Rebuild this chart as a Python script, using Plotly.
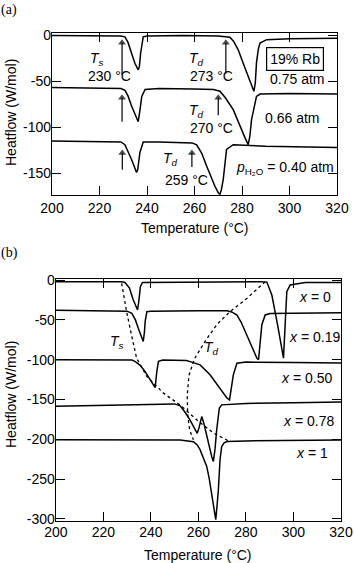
import plotly.graph_objects as go

# ---- panel (a): 19% Rb at three water pressures ----
a75_T = [200, 215, 229, 230.7, 232, 233.5, 234.9, 236.3, 236.8, 237.3, 237.9, 238.4, 240, 255, 270, 273,
         274.9, 276.5, 278.4, 280.5, 282.6, 284.0, 285.0, 285.6, 286.1, 286.9, 287.6, 290.4, 300, 320]
a75_hf = [-0.5, -1, -1, -2, -8, -19.8, -30.6, -37.8, -34, -20, -8, -2, -1, -0.5, -1, -1.5,
          -2.5, -7, -16, -30.6, -45, -55.8, -61, -52, -30, -15, -8.6, -5, -4, -3.5]

a66_T = [200, 220, 229, 230.7, 232, 233.5, 235.9, 236.3, 237.0, 237.8, 239.2, 245, 260, 268, 270.7,
         273, 276.3, 279.1, 281.2, 282.6, 283.3, 284, 285, 286.1, 287.6, 300, 320]
a66_hf = [-57, -57.5, -58, -60, -66, -77, -91.8, -94, -82, -66.6, -59, -58, -58.5, -59, -61,
          -68, -81, -99, -111, -118.8, -110, -92, -78, -66.6, -64, -63.5, -64]

a40_T = [200, 220, 229, 230.7, 232, 233.5, 235.6, 236.1, 237, 238.4, 245, 255, 259, 260.9, 263, 265.1,
         267, 268.6, 270, 270.7, 271.3, 272.1, 273.5, 276.3, 290, 320]
a40_hf = [-115, -115.5, -116, -119, -126, -135, -149, -146, -127.5, -116, -116, -116.5, -117, -119, -128, -142,
          -155, -164, -171, -172.8, -168, -156.6, -124, -119, -120.5, -122]

arrow_T = [229.5, 273.2, 229.5, 270, 229.6, 258.9]
arrow_tip = [-8.5, -8.5, -68, -68, -128, -128]
arrow_tail = [-43, -42, -94, -87, -146, -143]

# ---- panel (b): composition series x ----
b0_T = [200, 220, 227.7, 229.1, 231, 232.5, 233.8, 234.4, 235, 235.6, 236.5, 250, 270, 286, 288.8,
        290.9, 293.3, 295.1, 295.8, 296.5, 297.2, 298.6, 305, 320]
b0_hf = [-2, -2, -2, -3, -10, -24, -35, -37.5, -25, -8, -3, -2.5, -2.5, -2, -2.5,
         -18.7, -56, -90, -98, -56, -14.5, -6, -3, -3]

b19_T = [200, 220, 230, 232, 233.5, 234.7, 236, 236.8, 237.3, 237.6, 238.3, 240, 260, 272, 274, 276.2,
         278, 279.7, 282.5, 284.6, 285.3, 286, 286.7, 288.1, 290.2, 300, 320]
b19_hf = [-38, -38.5, -39, -41.7, -50, -60.5, -72, -77, -65, -52, -39.6, -39, -38.5, -38.5, -40, -43.8,
          -53, -64.7, -83.5, -98, -100, -80, -56, -43.8, -42, -41.5, -41]

b50_T = [200, 220, 232, 233.3, 235.5, 237.6, 240.4, 241.8, 242.5, 243.2, 245, 255, 256.5, 258.5, 260.7,
         264.9, 268.4, 272, 273.1, 273.9, 274.7, 276.2, 280, 300, 320]
b50_hf = [-100, -100, -100.5, -102, -107, -115, -127.5, -135, -115, -102, -100.5, -101, -102.4, -104, -106.5,
          -119, -133.8, -148, -150.4, -135, -119, -104.4, -103, -103.5, -104]

b78_T = [200, 220, 240, 250, 252.3, 254.4, 256.5, 258.3, 259.5, 260.3, 261.4, 262.3, 263.5, 265.6,
         266.3, 267, 267.7, 268.8, 269.8, 280, 300, 320]
b78_hf = [-158.5, -157.5, -156, -155.5, -158, -166, -176, -187, -192.5, -185, -171.4, -180, -196.5, -221.6,
          -227.8, -212, -188, -161, -156.7, -155, -154, -153]

b1_T = [200, 220, 240, 252.3, 257.9, 259.5, 260.7, 262, 263.5, 264.6, 265.6, 266.5, 267.3, 267.8,
        268.4, 269.1, 269.8, 270.8, 272, 280, 300, 320]
b1_hf = [-200.5, -201, -201.5, -201, -203, -207, -213, -222, -234, -250, -267.5, -288, -301, -285,
         -263.4, -225.7, -209, -204.5, -202.8, -202, -201.5, -201]

ts_T = [227.7, 229.8, 232, 234, 238.3, 245.3, 252.3, 259.3, 266.3, 273.3]
ts_hf = [-4, -39.6, -71, -98, -121, -142, -157, -175.5, -192, -203]
td_T = [288.1, 280.4, 273.3, 267.7, 262.8, 258.3, 256.0, 255.3, 255.5, 256.3, 257.9]
td_hf = [-2, -23, -39.6, -56, -77, -99, -120, -145, -170, -188, -200.7]

x_ticks = [200, 220, 240, 260, 280, 300, 320]
ya_ticks = [0, -50, -100, -150]
yb_ticks = [0, -50, -100, -150, -200, -250, -300]

FONT = "Liberation Sans, Arial, sans-serif"
line = dict(color="black", width=1.5)
dots = dict(color="black", width=1.3, dash="dot")

fig = go.Figure()
for T, hf in [(a75_T, a75_hf), (a66_T, a66_hf), (a40_T, a40_hf)]:
    fig.add_trace(go.Scatter(x=T, y=hf, mode="lines", line=line, showlegend=False,
                             xaxis="x", yaxis="y"))
for T, hf in [(b0_T, b0_hf), (b19_T, b19_hf), (b50_T, b50_hf), (b78_T, b78_hf), (b1_T, b1_hf)]:
    fig.add_trace(go.Scatter(x=T, y=hf, mode="lines", line=line, showlegend=False,
                             xaxis="x2", yaxis="y2"))
for T, hf in [(ts_T, ts_hf), (td_T, td_hf)]:
    fig.add_trace(go.Scatter(x=T, y=hf, mode="lines", line=dots, showlegend=False,
                             xaxis="x2", yaxis="y2"))

# onset arrows: shaft from tail up to tip, with a small triangle head
for t, tip, tail in zip(arrow_T, arrow_tip, arrow_tail):
    fig.add_trace(go.Scatter(x=[t, t], y=[tail, tip], mode="lines+markers",
                             line=dict(color="black", width=1.2),
                             marker=dict(symbol=["circle", "triangle-up"], size=[0, 7], color="black",
                                         line=dict(width=0)),
                             showlegend=False, xaxis="x", yaxis="y"))

ann = []

def txt(x, y, s, ax="x", **kw):
    d = dict(x=x, y=y, text=s, xref=ax, yref=ax.replace("x", "y"), showarrow=False,
             xanchor="center", yanchor="middle",
             font=dict(family=FONT, size=14, color="black"))
    d.update(kw)
    ann.append(d)

Ts = "<i>T</i><sub><i>s</i></sub>"
Td = "<i>T</i><sub><i>d</i></sub>"
txt(219, -26, Ts)
txt(224.4, -44, "230 °C")
txt(261, -26, Td)
txt(267.2, -44, "273 °C")
txt(261, -82, Td)
txt(267.2, -101, "270 °C")
txt(249.7, -134, Td)
txt(256.7, -157, "259 °C")
txt(302.5, -26, "19% Rb", bordercolor="black", borderwidth=1.2, borderpad=3)
txt(303.2, -48, "0.75 atm")
txt(301, -90, "0.66 atm")
txt(298, -144, "<i>p</i><sub>H₂O</sub> = 0.40 atm")

txt(225.8, -78, Ts, "x2")
txt(265.5, -85, Td, "x2")
txt(309, -21, "<i>x</i> = 0", "x2")
txt(309, -71, "<i>x</i> = 0.19", "x2")
txt(305.4, -123, "<i>x</i> = 0.50", "x2")
txt(306.4, -177, "<i>x</i> = 0.78", "x2")
txt(308, -217, "<i>x</i> = 1", "x2")

def paper(x, y, s, **kw):
    d = dict(x=x, y=y, text=s, xref="paper", yref="paper", showarrow=False,
             xanchor="center", yanchor="middle",
             font=dict(family=FONT, size=14, color="black"))
    d.update(kw)
    ann.append(d)

W, H = 354, 563
serif = dict(family="Liberation Serif, serif", size=14, color="black")
paper(9 / W, 1 - 10 / H, "(a)", font=serif)
paper(9 / W, 1 - 253 / H, "(b)", font=serif)
paper(11 / W, 1 - 113 / H, "Heatflow (W/mol)", textangle=-90)
paper(11 / W, 1 - 395 / H, "Heatflow (W/mol)", textangle=-90)
paper(195 / W, 1 - 228 / H, "Temperature (°C)")
paper(198 / W, 1 - 555 / H, "Temperature (°C)")

axis = dict(showline=True, linecolor="black", linewidth=1.2, mirror="ticks", ticks="inside",
            ticklen=9, tickwidth=1.2, tickcolor="black", showgrid=False, zeroline=False,
            automargin=False, tickfont=dict(family=FONT, size=14, color="black"))

fig.update_layout(
    template="none",
    width=W, height=H, margin=dict(l=0, r=0, t=0, b=0, pad=0),
    paper_bgcolor="white", plot_bgcolor="white",
    xaxis=dict(axis, domain=[52 / W, 337 / W], range=[200, 320], tickvals=x_ticks, anchor="y"),
    yaxis=dict(axis, domain=[1 - 195 / H, 1 - 33 / H], range=[-173.5, 2.2], tickvals=ya_ticks,
               ticktext=[str(v) for v in ya_ticks], anchor="x", ticklabelstandoff=-3),
    xaxis2=dict(axis, domain=[55.8 / W, 341 / W], range=[200, 320], tickvals=x_ticks, anchor="y2",
                ticklabelstandoff=-2),
    yaxis2=dict(axis, domain=[1 - 521 / H, 1 - 279 / H], range=[-302.6, 1.4], tickvals=yb_ticks,
                ticktext=[str(v) for v in yb_ticks], anchor="x2", ticklabelstandoff=-3),
    annotations=ann,
)

# the page's default body margin would shift the figure by 8 px
fig.write_html("out.html", config={"displayModeBar": False},
               post_script="document.body.style.margin = '0px';")
